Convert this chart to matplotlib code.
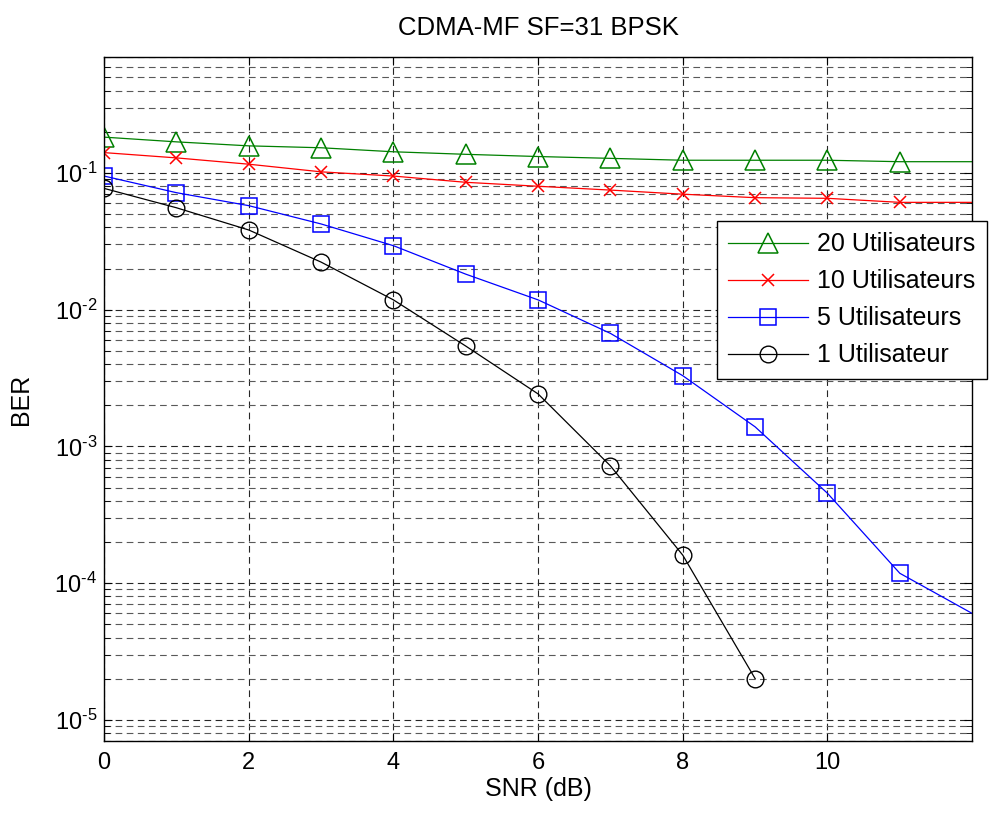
import numpy as np
import matplotlib
matplotlib.use("Agg")
import matplotlib.pyplot as plt
from matplotlib.ticker import LogLocator, NullFormatter, FixedLocator

plt.rcParams['font.family'] = ['Liberation Sans', 'DejaVu Sans']
plt.rcParams['mathtext.fontset'] = 'custom'
plt.rcParams['mathtext.rm'] = 'Liberation Sans'
plt.rcParams['mathtext.it'] = 'Liberation Sans'

snr = [0, 1, 2, 3, 4, 5, 6, 7, 8, 9, 10, 11, 12]
ber_20 = [0.183, 0.169, 0.158, 0.153, 0.143, 0.137, 0.132, 0.128, 0.124, 0.124, 0.124, 0.121, 0.121]
ber_10 = [0.141, 0.129, 0.116, 0.102, 0.095, 0.0855, 0.080, 0.075, 0.070, 0.066, 0.0653, 0.061, 0.061]
ber_5 = [0.095, 0.0718, 0.0577, 0.0424, 0.0294, 0.0182, 0.0118, 0.00671, 0.00329, 0.00139, 4.54e-4, 1.18e-4, 6.0e-5]
snr_1 = [0, 1, 2, 3, 4, 5, 6, 7, 8, 9]
ber_1 = [0.0772, 0.0557, 0.0383, 0.0223, 0.0118, 0.00542, 0.00242, 7.2e-4, 1.6e-4, 2.0e-5]
y_ticks = [1e-5, 1e-4, 1e-3, 1e-2, 1e-1]
y_labels = [r'$10^{\text{-}5}$', r'$10^{\text{-}4}$', r'$10^{\text{-}3}$',
            r'$10^{\text{-}2}$', r'$10^{\text{-}1}$']

fig = plt.figure(figsize=(9.91, 8.14), dpi=100)
ax = fig.add_axes([0.105, 0.0897, 0.876, 0.8403])

# MATLAB ne dessine pas les marqueurs au bord droit (x=12)
mk = list(range(12))
ax.semilogy(snr, ber_20, color='green', lw=0.9, marker='^', ms=14, mfc='none', mew=1.1,
            markevery=mk, label='20 Utilisateurs')
ax.semilogy(snr, ber_10, color='red', lw=0.9, marker='x', ms=8, mew=1.1,
            markevery=mk, label='10 Utilisateurs')
ax.semilogy(snr, ber_5, color='blue', lw=0.9, marker='s', ms=12, mfc='none', mew=1.1,
            markevery=mk, label='5 Utilisateurs')
ax.semilogy(snr_1, ber_1, color='black', lw=0.9, marker='o', ms=12, mfc='none', mew=1.0,
            label='1 Utilisateur')

ax.set_xlim(0, 12)
ax.set_ylim(7e-6, 0.706)
ax.set_xticks([0, 2, 4, 6, 8, 10])
ax.yaxis.set_major_locator(FixedLocator(y_ticks))
ax.set_yticklabels(y_labels)
ax.yaxis.set_minor_locator(LogLocator(base=10, subs=np.arange(2, 10), numticks=20))
ax.yaxis.set_minor_formatter(NullFormatter())

ax.grid(True, which='major', axis='both', color='0.15', linestyle=(0, (6, 4)), lw=0.8)
ax.grid(True, which='minor', axis='y', color='0.35', linestyle=(0, (6, 4)), lw=0.8)
ax.tick_params(which='both', direction='in', top=True, right=True, labelsize=17)
ax.tick_params(which='major', length=6)
ax.tick_params(which='minor', length=4)
ax.tick_params(axis='x', pad=8)
ax.tick_params(axis='y', pad=5)
for s in ax.spines.values():
    s.set_linewidth(1.0)

ax.set_title('CDMA-MF SF=31 BPSK', fontsize=18.5, pad=16)
ax.set_xlabel('SNR (dB)', fontsize=18)
ax.set_ylabel('BER', fontsize=18)
ax.xaxis.set_label_coords(0.5, -0.052)
ax.yaxis.set_label_coords(-0.082, 0.5)

leg = ax.legend(loc='upper left', bbox_to_anchor=(717 / 991, 1 - 221 / 814),
                bbox_transform=fig.transFigure, fontsize=18, fancybox=False,
                framealpha=1, edgecolor='black', borderpad=0.45, labelspacing=0.52,
                handlelength=3.2, handletextpad=0.36, borderaxespad=0)
leg.get_frame().set_linewidth(1.0)

fig.savefig('out.png', dpi=100)
